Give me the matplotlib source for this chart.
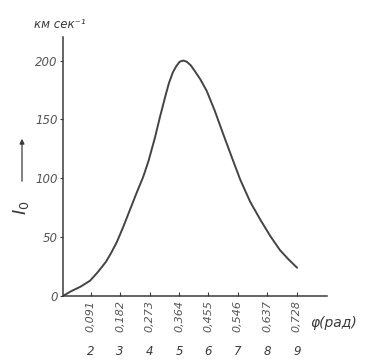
import numpy as np
import matplotlib
matplotlib.use('Agg')
import matplotlib.pyplot as plt

# ------------------ data
phi = [0.005, 0.030, 0.060, 0.089, 0.112, 0.138, 0.155, 0.172, 0.192,
       0.212, 0.232, 0.253, 0.270, 0.290, 0.305, 0.321, 0.333, 0.345,
       0.355, 0.366, 0.377, 0.388, 0.400, 0.413, 0.430, 0.450, 0.475,
       0.500, 0.527, 0.553, 0.584, 0.615, 0.646, 0.676, 0.703, 0.729]
intensity = [0, 4, 8, 13, 20, 29, 37, 46, 59,
             73, 87, 101, 115, 135, 152, 169, 181, 190,
             195, 199, 200, 199, 196, 191, 184, 174, 157,
             138, 118, 99, 80, 65, 51, 39, 31, 24]

x_ticks = [0.091, 0.182, 0.273, 0.364, 0.455, 0.546, 0.637, 0.728]
x_tick_labels = ['0,091', '0,182', '0,273', '0,364', '0,455', '0,546', '0,637', '0,728']
point_numbers = ['2', '3', '4', '5', '6', '7', '8', '9']
y_ticks = [0, 50, 100, 150, 200]
y_tick_labels = ['0', '50', '100', '150', '200']

ink = '#3a3a3a'
W, H = 376, 361

fig = plt.figure(figsize=(W / 100, H / 100), dpi=100)
fig.patch.set_facecolor('white')

ax = fig.add_axes([63 / W, 65 / H, 264 / W, 259 / H])
ax.plot(phi, intensity, color='#444444', lw=1.4, solid_capstyle='round',
        solid_joinstyle='round')

ax.set_xlim(0.0053, 0.8215)
ax.set_ylim(0, 220)

for s in ['top', 'right']:
  ax.spines[s].set_visible(False)
for s in ['left', 'bottom']:
  ax.spines[s].set_color(ink)
  ax.spines[s].set_linewidth(1.1)

ax.set_xticks(x_ticks)
ax.set_xticklabels(x_tick_labels, rotation=90, fontsize=8, style='italic', color='#555555')
ax.tick_params(axis='x', direction='in', length=3, color=ink, pad=3)

ax.set_yticks(y_ticks)
ax.set_yticklabels(y_tick_labels, fontsize=8.5, style='italic', color='#555555')
ax.tick_params(axis='y', direction='out', length=2, color=ink, pad=2)

# point numbers under the tick labels
for xv, num in zip(x_ticks, point_numbers):
  ax.text(xv, -47, num, fontsize=8.5, style='italic', color=ink,
          ha='center', va='center', clip_on=False)

# axis captions
fig.text(34 / W, 1 - 25 / H, 'км сек⁻¹', fontsize=8.5, style='italic', color=ink,
         ha='left', va='center')
fig.text(310 / W, 1 - 323 / H, 'φ(рад)', fontsize=10, style='italic', color=ink,
         ha='left', va='center')
fig.text(21 / W, 1 - 208 / H, '$I_0$', fontsize=13, color=ink, rotation=90,
         ha='center', va='center')
fig.add_artist(matplotlib.patches.FancyArrowPatch(
  (22 / W, 1 - 184 / H), (22 / W, 1 - 136 / H), transform=fig.transFigure,
  arrowstyle='-|>', mutation_scale=7, color=ink, lw=0.9))

fig.savefig('out.png', dpi=100, facecolor='white')
